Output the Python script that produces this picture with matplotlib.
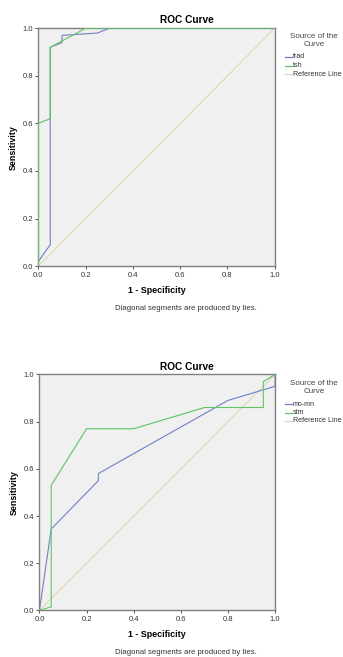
import numpy as np
import matplotlib
matplotlib.use('Agg')
import matplotlib.pyplot as plt
from matplotlib.lines import Line2D

# top chart: trad vs tsh
trad_x = [0.0, 0.0, 0.05, 0.05, 0.10, 0.10, 0.25, 0.30, 1.0]
trad_y = [0.0, 0.02, 0.09, 0.92, 0.94, 0.97, 0.98, 1.0, 1.0]
tsh_x = [0.0, 0.0, 0.05, 0.05, 0.20, 1.0]
tsh_y = [0.0, 0.60, 0.62, 0.92, 1.0, 1.0]

# bottom chart: mo-mn vs stm
momn_x = [0.0, 0.05, 0.25, 0.25, 0.80, 1.0, 1.0]
momn_y = [0.0, 0.345, 0.55, 0.58, 0.89, 0.95, 1.0]
stm_x = [0.0, 0.05, 0.05, 0.20, 0.40, 0.70, 0.95, 0.95, 1.0]
stm_y = [0.0, 0.015, 0.53, 0.77, 0.77, 0.86, 0.86, 0.97, 1.0]

ticks = [0.0, 0.2, 0.4, 0.6, 0.8, 1.0]
tick_labels = ['0.0', '0.2', '0.4', '0.6', '0.8', '1.0']

BLUE = '#6f7fc6'
GREEN = '#5ec464'
REF = '#ded9b2'

plt.rcParams['font.family'] = ['Liberation Sans', 'DejaVu Sans']

W, H = 343, 657
fig = plt.figure(figsize=(W / 100, H / 100), dpi=100)


def px(x, y):
	# pixel position (from top-left) -> figure fraction
	return x / W, 1 - y / H


def roc_panel(rect, s1, s2, names, top):
	ax = fig.add_axes(rect)
	ax.set_facecolor('#f0f0f0')
	ax.plot(s1[0], s1[1], color=BLUE, lw=0.8, zorder=3)
	ax.plot(s2[0], s2[1], color=GREEN, lw=0.8, zorder=3)
	ax.plot([0, 1], [0, 1], color=REF, lw=0.8, zorder=2)
	ax.set_xlim(0, 1)
	ax.set_ylim(0, 1)
	ax.set_xticks(ticks)
	ax.set_yticks(ticks)
	ax.set_xticklabels(tick_labels)
	ax.set_yticklabels(tick_labels)
	ax.tick_params(labelsize=5.5, length=2.5, width=0.6, pad=1.5, colors='#333333')
	for sp in ax.spines.values():
		sp.set_color('#808080')
		sp.set_linewidth(1.0)
	fig.text(*px(186.5, top - 8), 'ROC Curve', fontsize=7.3, fontweight='bold',
		ha='center', va='center')
	ax.set_xlabel('1 - Specificity', fontsize=6.4, fontweight='bold', labelpad=5)
	ax.set_ylabel('Sensitivity', fontsize=6.4, fontweight='bold', labelpad=3)

	# legend, drawn by hand
	fig.text(*px(314, top + 8.5), 'Source of the', fontsize=5.8, ha='center',
		va='center', color='#444444')
	fig.text(*px(314, top + 16.5), 'Curve', fontsize=5.8, ha='center',
		va='center', color='#444444')
	labels = names + ['Reference Line']
	colors = [BLUE, GREEN, REF]
	for i, (lab, c) in enumerate(zip(labels, colors)):
		yy = top + 29 + i * 8.5
		x0, y0 = px(285, yy)
		x1, _ = px(292, yy)
		fig.add_artist(Line2D([x0, x1], [y0, y0], color=c, lw=0.9,
			transform=fig.transFigure))
		fig.text(x1 + 0.002, y0, lab, fontsize=5.1, ha='left', va='center',
			color='#333333')
	return ax


ax1 = roc_panel([0.112, 0.595, 0.689, 0.362], (trad_x, trad_y), (tsh_x, tsh_y),
	['trad', 'tsh'], 28)
fig.text(*px(186, 308), 'Diagonal segments are produced by ties.',
	fontsize=5.6, ha='center', va='center', color='#333333')

ax2 = roc_panel([0.115, 0.071, 0.687, 0.359], (momn_x, momn_y), (stm_x, stm_y),
	['mo-mn', 'stm'], 375)
fig.text(*px(186, 652.5), 'Diagonal segments are produced by ties.',
	fontsize=5.6, ha='center', va='center', color='#333333')

fig.savefig('out.png', dpi=100)
